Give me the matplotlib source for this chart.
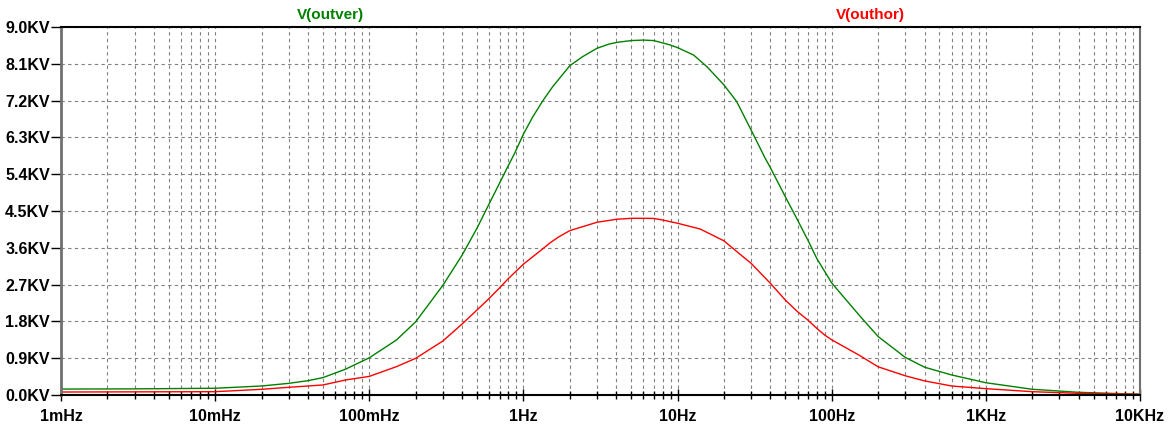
import matplotlib.pyplot as plt
from matplotlib.ticker import FixedLocator, LogLocator, NullFormatter

# frequencies (Hz) and voltages (V)
f_outver = [0.001, 0.003, 0.01, 0.02, 0.03, 0.04, 0.05, 0.07, 0.1, 0.15, 0.2, 0.3, 0.4,
            0.5, 0.6, 0.7, 0.8, 0.874, 1.0, 1.149, 1.333, 1.548, 2, 2.42, 3, 3.6, 4.08, 5, 6,
            7, 7.73, 8.97, 10, 12.7, 15.5, 20, 24.2, 30, 36.9, 40, 50, 60, 70, 80, 100,
            150, 200, 300, 400, 600, 1000, 2000, 4000, 10000]
v_outver = [145, 150, 165, 220, 285, 350, 425, 630, 910, 1345, 1790, 2680, 3420,
            4080, 4680, 5180, 5620, 5900, 6380, 6800, 7190, 7540, 8054, 8274, 8479, 8584, 8626, 8668, 8680,
            8668, 8626, 8560, 8495, 8315, 8030, 7582, 7174, 6480, 5800, 5560, 4850, 4280, 3790, 3340, 2740,
            1960, 1430, 920, 680, 490, 300, 140, 66, 17]

f_outhor = [0.001, 0.01, 0.02, 0.03, 0.05, 0.07, 0.1, 0.15, 0.2, 0.3, 0.4, 0.5, 0.6,
            0.7, 0.8, 1.0, 1.28, 1.5, 1.7, 2, 3, 4, 5, 6, 7, 8, 10, 14, 20, 25, 30, 40,
            50, 60, 70, 80, 90, 100, 150, 200, 300, 400, 600, 1000, 2000, 4000, 10000]
v_outhor = [73, 81, 139, 188, 245, 367, 455, 693, 897, 1320, 1736, 2079, 2364,
            2620, 2850, 3200, 3520, 3730, 3870, 4020, 4224, 4297, 4321, 4321, 4318, 4280, 4200, 4060, 3770, 3465, 3220, 2731,
            2323, 2037, 1834, 1630, 1467, 1350, 978, 690, 470, 345, 220, 155, 81, 41, 17]

x_ticks = [0.001, 0.01, 0.1, 1, 10, 100, 1000, 10000]
x_labels = ['1mHz', '10mHz', '100mHz', '1Hz', '10Hz', '100Hz', '1KHz', '10KHz']
y_ticks = [0, 900, 1800, 2700, 3600, 4500, 5400, 6300, 7200, 8100, 9000]
y_labels = ['0.0KV', '0.9KV', '1.8KV', '2.7KV', '3.6KV', '4.5KV', '5.4KV', '6.3KV', '7.2KV', '8.1KV', '9.0KV']

plt.rcParams['font.family'] = ['Liberation Sans', 'DejaVu Sans']

fig = plt.figure(figsize=(11.74, 4.28), dpi=100)
ax = fig.add_axes([61 / 1174, 1 - 395 / 428, (1140 - 61) / 1174, (395 - 27) / 428])

ax.plot(f_outver, v_outver, color='#008000', linewidth=1.0)
ax.plot(f_outhor, v_outhor, color='#ff0000', linewidth=1.0)

ax.set_xscale('log')
ax.set_xlim(0.001, 10000)
ax.set_ylim(0, 9000)

ax.xaxis.set_major_locator(FixedLocator(x_ticks))
ax.set_xticklabels(x_labels)
ax.xaxis.set_minor_locator(LogLocator(base=10, subs=range(2, 10), numticks=20))
ax.xaxis.set_minor_formatter(NullFormatter())
ax.set_yticks(y_ticks)
ax.set_yticklabels(y_labels)

# grid
ax.grid(True, which='major', axis='both', color='#808080', linestyle=(0, (3, 3)), linewidth=0.8)
ax.grid(True, which='minor', axis='x', color='#808080', linestyle=(0, (3, 3)), linewidth=0.8)

ax.tick_params(axis='x', which='major', direction='inout', length=8, width=1, pad=6,
               labelsize=11.5, colors='black')
ax.tick_params(axis='x', which='minor', direction='inout', length=6, width=1)
ax.tick_params(axis='y', which='major', direction='out', length=7, width=1, pad=1,
               labelsize=11.5)
for lab in ax.get_xticklabels() + ax.get_yticklabels():
    lab.set_fontweight('bold')

ax.spines['left'].set_color('#707070')
ax.spines['left'].set_linewidth(2)
ax.spines['right'].set_color('#707070')
ax.spines['right'].set_linewidth(1.5)
ax.spines['top'].set_color('black')
ax.spines['top'].set_linewidth(1.5)
ax.spines['bottom'].set_color('black')
ax.spines['bottom'].set_linewidth(1.5)

# trace names on top
fig.text(330 / 1174, 1 - 15 / 428, 'V(outver)', color='#008000', fontsize=11,
         fontweight='bold', ha='center', va='center')
fig.text(870 / 1174, 1 - 15 / 428, 'V(outhor)', color='#ff0000', fontsize=11,
         fontweight='bold', ha='center', va='center')

fig.savefig('out.png', dpi=100)
